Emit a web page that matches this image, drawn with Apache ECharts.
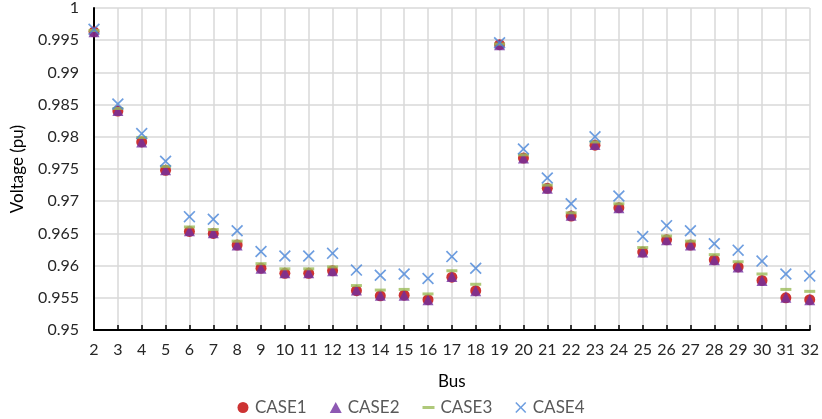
<!DOCTYPE html>
<html><head><meta charset="utf-8">
<script src="https://cdn.jsdelivr.net/npm/echarts@6/dist/echarts.min.js"></script>
<style>html,body{margin:0;padding:0;background:#fff}#c{width:822px;height:419px}</style>
</head><body><div id="c"></div>
<script>
const buses = ['2','3','4','5','6','7','8','9','10','11','12','13','14','15','16','17','18','19','20','21','22','23','24','25','26','27','28','29','30','31','32'];
const case1 = [0.9963,0.9840,0.9792,0.9748,0.9653,0.9650,0.9632,0.9596,0.9588,0.9588,0.9592,0.9561,0.9553,0.9554,0.9547,0.9582,0.9561,0.9943,0.9767,0.9720,0.9677,0.9787,0.9690,0.9621,0.9640,0.9632,0.9609,0.9598,0.9577,0.9550,0.9547];
const case2 = [0.9963,0.9841,0.9792,0.9749,0.9654,0.9651,0.9632,0.9596,0.9589,0.9589,0.9592,0.9562,0.9554,0.9554,0.9547,0.9583,0.9561,0.9943,0.9767,0.9720,0.9678,0.9788,0.9690,0.9621,0.9640,0.9632,0.9609,0.9598,0.9577,0.9551,0.9547];
const case3 = [0.9965,0.9844,0.9799,0.9754,0.9660,0.9656,0.9638,0.9603,0.9595,0.9595,0.9598,0.9569,0.9562,0.9563,0.9556,0.9592,0.9571,0.9944,0.9772,0.9725,0.9682,0.9792,0.9696,0.9628,0.9646,0.9638,0.9617,0.9606,0.9587,0.9563,0.9560];
const case4 = [0.9967,0.9851,0.9805,0.9762,0.9676,0.9672,0.9654,0.9622,0.9615,0.9615,0.9619,0.9593,0.9585,0.9587,0.9580,0.9614,0.9596,0.9946,0.9781,0.9736,0.9696,0.9800,0.9708,0.9645,0.9662,0.9654,0.9634,0.9624,0.9607,0.9587,0.9584];
const yTicks = [0.95,0.955,0.96,0.965,0.97,0.975,0.98,0.985,0.99,0.995,1];

const xPath = 'path://M0,1L1,0L5,4L9,0L10,1L6,5L10,9L9,10L5,6L1,10L0,9L4,5Z';
const chart = echarts.init(document.getElementById('c'), null, {renderer:'canvas'});
const font = 'Lato, "Open Sans", sans-serif';
chart.setOption({
  animation:false,
  backgroundColor:'#fff',
  grid:{left:94,right:11,top:8,bottom:89,containLabel:false},
  legend:{
    top:394, left:'center', itemGap:23, itemWidth:12, itemHeight:11,
    textStyle:{color:'#595959',fontSize:17,fontFamily:font,padding:[0,0,0,1]},
    data:[
      {name:'CASE1',icon:'circle'},
      {name:'CASE2',icon:'triangle'},
      {name:'CASE3',icon:'path://M0,4L10,4L10,6.5L0,6.5Z'},
      {name:'CASE4',icon:xPath}
    ]
  },
  xAxis:{
    type:'category', data:buses, boundaryGap:false,
    name:'Bus', nameLocation:'middle', nameGap:43,
    nameTextStyle:{color:'#000',fontSize:17,fontFamily:font},
    axisLine:{lineStyle:{color:'#000',width:2}},
    axisTick:{show:true,inside:true,length:5,lineStyle:{color:'#000',width:1.5}},
    axisLabel:{color:'#262626',fontSize:16,fontFamily:font,margin:12,interval:0},
    splitLine:{show:true,lineStyle:{color:'#D9D9D9',width:1.5}}
  },
  yAxis:{
    type:'value', min:0.95, max:1, interval:0.005,
    name:'Voltage (pu)', nameLocation:'middle', nameGap:68,
    nameTextStyle:{color:'#000',fontSize:17,fontFamily:font},
    axisLine:{show:true,lineStyle:{color:'#000',width:2}},
    axisTick:{show:false},
    axisLabel:{color:'#262626',fontSize:16,fontFamily:font,margin:15,
      formatter:v=>{const t=yTicks.find(x=>Math.abs(x-v)<1e-9);return t===undefined?'':String(t);}},
    splitLine:{show:true,lineStyle:{color:'#D9D9D9',width:1.5}}
  },
  series:[
    {name:'CASE1',type:'scatter',data:case1,symbol:'circle',symbolSize:11,itemStyle:{color:'#C00000'}},
    {name:'CASE2',type:'scatter',data:case2,symbol:'triangle',symbolSize:11,itemStyle:{color:'#7030A0'}},
    {name:'CASE3',type:'scatter',data:case3,symbol:'rect',symbolSize:[11,3],itemStyle:{color:'#9BBB59'}},
    {name:'CASE4',type:'scatter',data:case4,symbol:xPath,symbolSize:12,itemStyle:{color:'#4A86D8'}}
  ]
});
</script></body></html>
